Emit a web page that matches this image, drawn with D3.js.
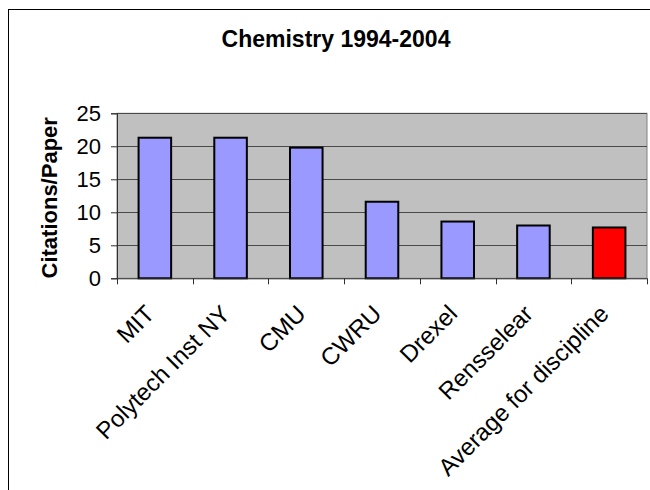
<!DOCTYPE html>
<html>
<head>
<meta charset="utf-8">
<script src="https://cdn.jsdelivr.net/npm/d3@7"></script>
<style>
  html, body { margin: 0; padding: 0; background: #fff; }
  svg { display: block; font-family: "Liberation Sans", Arial, sans-serif; }
</style>
</head>
<body>
<svg id="chart" width="650" height="490"></svg>
<script>
const title = "Chemistry 1994-2004";
const yAxisTitle = "Citations/Paper";
const categories = ["MIT", "Polytech Inst NY", "CMU", "CWRU", "Drexel", "Rensselear", "Average for discipline"];
const values = [21.3, 21.3, 19.8, 11.6, 8.6, 8.0, 7.7];
const barColors = ["#9999FF", "#9999FF", "#9999FF", "#9999FF", "#9999FF", "#9999FF", "#FF0000"];
const yTicks = [0, 5, 10, 15, 20, 25];

const svg = d3.select("#chart");
const plot = { left: 117, right: 647, top: 113.3, bottom: 278.3 };

// outer chart frame (extends past the window on right/bottom)
svg.append("rect")
  .attr("x", 8.5).attr("y", 9.5)
  .attr("width", 700).attr("height", 600)
  .attr("fill", "#fff").attr("stroke", "#000").attr("stroke-width", 1);

const x = d3.scaleBand().domain(categories).range([plot.left, plot.right]).padding(0);
const y = d3.scaleLinear().domain([0, 25]).range([plot.bottom, plot.top]);

// plot area
svg.append("rect")
  .attr("x", plot.left).attr("y", plot.top)
  .attr("width", plot.right - plot.left).attr("height", plot.bottom - plot.top)
  .attr("fill", "#C0C0C0").attr("stroke", "#808080").attr("stroke-width", 1);

// gridlines
svg.append("g").selectAll("line")
  .data(yTicks.filter(t => t > 0))
  .join("line")
  .attr("x1", plot.left).attr("x2", plot.right)
  .attr("y1", d => Math.round(y(d)) + 0.5).attr("y2", d => Math.round(y(d)) + 0.5)
  .attr("stroke", "#4a4a4a").attr("stroke-width", 1);

// bars
const barFrac = 0.43;
svg.append("g").selectAll("rect")
  .data(categories)
  .join("rect")
  .attr("x", d => x(d) + x.bandwidth() * (1 - barFrac) / 2)
  .attr("width", x.bandwidth() * barFrac)
  .attr("y", (d, i) => y(values[i]))
  .attr("height", (d, i) => y(0) - y(values[i]))
  .attr("fill", (d, i) => barColors[i])
  .attr("stroke", "#000").attr("stroke-width", 2);

// y axis
const yAxis = d3.axisLeft(y).tickValues(yTicks).tickSize(6).tickPadding(10).tickFormat(d3.format("d"));
const gy = svg.append("g").attr("transform", `translate(${plot.left},0)`).call(yAxis);
gy.select(".domain").attr("stroke", "#303030");
gy.selectAll(".tick line").attr("stroke", "#303030");
gy.selectAll(".tick text")
  .attr("font-size", 22).attr("fill", "#000")
  .attr("font-family", "'Liberation Sans', Arial, sans-serif");

// x axis (ticks at category boundaries)
const xb = d3.scaleLinear().domain([0, categories.length]).range([plot.left, plot.right]);
const gx = svg.append("g").attr("transform", `translate(0,${plot.bottom})`);
gx.append("line").attr("x1", plot.left).attr("x2", plot.right).attr("y1", 0.5).attr("y2", 0.5).attr("stroke", "#303030");
gx.selectAll("line.tk")
  .data(d3.range(categories.length + 1))
  .join("line").attr("class", "tk")
  .attr("x1", d => Math.round(xb(d)) + 0.5).attr("x2", d => Math.round(xb(d)) + 0.5)
  .attr("y1", 0).attr("y2", 6)
  .attr("stroke", "#303030");

// x labels rotated
svg.append("g").selectAll("text")
  .data(categories)
  .join("text")
  .attr("transform", d => `translate(${x(d) + x.bandwidth() / 2 + 1},${plot.bottom + 37}) rotate(-45)`)
  .attr("text-anchor", "end")
  .attr("font-size", 24)
  .attr("fill", "#000")
  .text(d => d);

// title
svg.append("text")
  .attr("x", 336).attr("y", 46.5)
  .attr("text-anchor", "middle")
  .attr("font-size", 23).attr("font-weight", "bold")
  .text(title);

// y axis title
svg.append("text")
  .attr("transform", `translate(57,${(plot.top + plot.bottom) / 2 + 2}) rotate(-90)`)
  .attr("text-anchor", "middle")
  .attr("font-size", 22).attr("font-weight", "bold")
  .text(yAxisTitle);
</script>
</body>
</html>
